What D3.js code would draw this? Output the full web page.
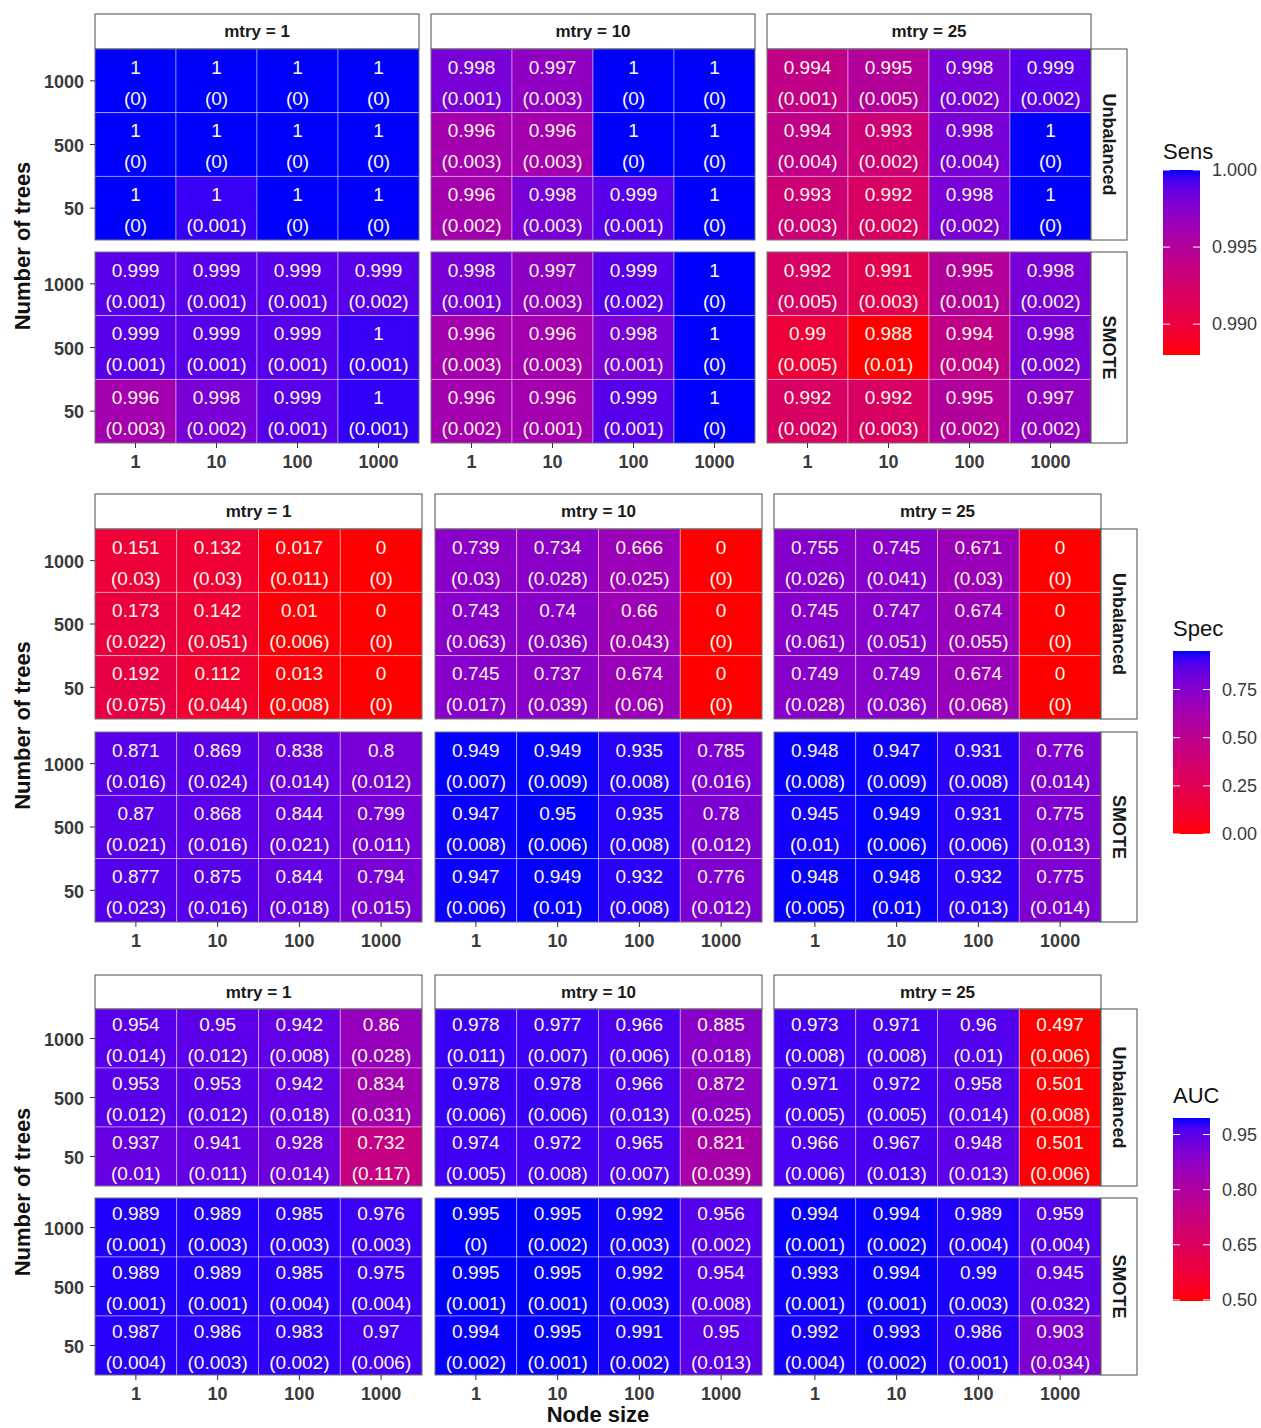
<!DOCTYPE html>
<html><head><meta charset="utf-8">
<script src="https://cdn.jsdelivr.net/npm/d3@7"></script>
<style>
body{margin:0;background:#fff}
svg{display:block}
text{font-family:"Liberation Sans",Arial,Helvetica,sans-serif}
</style>
</head><body>
<svg id="chart" width="1261" height="1428"></svg>
<script>
// ---------------- DATA ----------------
const nodeSizes = ["1","10","100","1000"];
const nTrees = ["1000","500","50"];
const mtryLevels = ["1","10","25"];
const samplings = ["Unbalanced","SMOTE"];
const metricNames = ["Sens","Spec","AUC"];

// indexing: [sampling][mtry][ntree row: 1000,500,50][node size: 1,10,100,1000]
const sensMean = [
 [
  [[1,1,1,1],[1,1,1,1],[1,0.9996,1,1]],
  [[0.998,0.997,1,1],[0.996,0.996,1,1],[0.996,0.998,0.999,1]],
  [[0.994,0.995,0.998,0.999],[0.994,0.993,0.998,1],[0.993,0.992,0.998,1]]
 ],
 [
  [[0.999,0.999,0.999,0.999],[0.999,0.999,0.999,0.9996],[0.996,0.998,0.999,0.9997]],
  [[0.998,0.997,0.999,1],[0.996,0.996,0.998,1],[0.996,0.996,0.999,1]],
  [[0.992,0.991,0.995,0.998],[0.99,0.988,0.994,0.998],[0.992,0.992,0.995,0.997]]
 ]
];
const sensSd = [
 [
  [[0,0,0,0],[0,0,0,0],[0,0.001,0,0]],
  [[0.001,0.003,0,0],[0.003,0.003,0,0],[0.002,0.003,0.001,0]],
  [[0.001,0.005,0.002,0.002],[0.004,0.002,0.004,0],[0.003,0.002,0.002,0]]
 ],
 [
  [[0.001,0.001,0.001,0.002],[0.001,0.001,0.001,0.001],[0.003,0.002,0.001,0.001]],
  [[0.001,0.003,0.002,0],[0.003,0.003,0.001,0],[0.002,0.001,0.001,0]],
  [[0.005,0.003,0.001,0.002],[0.005,0.01,0.004,0.002],[0.002,0.003,0.002,0.002]]
 ]
];
const specMean = [
 [
  [[0.151,0.132,0.017,0],[0.173,0.142,0.01,0],[0.192,0.112,0.013,0]],
  [[0.739,0.734,0.666,0],[0.743,0.74,0.66,0],[0.745,0.737,0.674,0]],
  [[0.755,0.745,0.671,0],[0.745,0.747,0.674,0],[0.749,0.749,0.674,0]]
 ],
 [
  [[0.871,0.869,0.838,0.8],[0.87,0.868,0.844,0.799],[0.877,0.875,0.844,0.794]],
  [[0.949,0.949,0.935,0.785],[0.947,0.95,0.935,0.78],[0.947,0.949,0.932,0.776]],
  [[0.948,0.947,0.931,0.776],[0.945,0.949,0.931,0.775],[0.948,0.948,0.932,0.775]]
 ]
];
const specSd = [
 [
  [[0.03,0.03,0.011,0],[0.022,0.051,0.006,0],[0.075,0.044,0.008,0]],
  [[0.03,0.028,0.025,0],[0.063,0.036,0.043,0],[0.017,0.039,0.06,0]],
  [[0.026,0.041,0.03,0],[0.061,0.051,0.055,0],[0.028,0.036,0.068,0]]
 ],
 [
  [[0.016,0.024,0.014,0.012],[0.021,0.016,0.021,0.011],[0.023,0.016,0.018,0.015]],
  [[0.007,0.009,0.008,0.016],[0.008,0.006,0.008,0.012],[0.006,0.01,0.008,0.012]],
  [[0.008,0.009,0.008,0.014],[0.01,0.006,0.006,0.013],[0.005,0.01,0.013,0.014]]
 ]
];
const aucMean = [
 [
  [[0.954,0.95,0.942,0.86],[0.953,0.953,0.942,0.834],[0.937,0.941,0.928,0.732]],
  [[0.978,0.977,0.966,0.885],[0.978,0.978,0.966,0.872],[0.974,0.972,0.965,0.821]],
  [[0.973,0.971,0.96,0.497],[0.971,0.972,0.958,0.501],[0.966,0.967,0.948,0.501]]
 ],
 [
  [[0.989,0.989,0.985,0.976],[0.989,0.989,0.985,0.975],[0.987,0.986,0.983,0.97]],
  [[0.995,0.995,0.992,0.956],[0.995,0.995,0.992,0.954],[0.994,0.995,0.991,0.95]],
  [[0.994,0.994,0.989,0.959],[0.993,0.994,0.99,0.945],[0.992,0.993,0.986,0.903]]
 ]
];
const aucSd = [
 [
  [[0.014,0.012,0.008,0.028],[0.012,0.012,0.018,0.031],[0.01,0.011,0.014,0.117]],
  [[0.011,0.007,0.006,0.018],[0.006,0.006,0.013,0.025],[0.005,0.008,0.007,0.039]],
  [[0.008,0.008,0.01,0.006],[0.005,0.005,0.014,0.008],[0.006,0.013,0.013,0.006]]
 ],
 [
  [[0.001,0.003,0.003,0.003],[0.001,0.001,0.004,0.004],[0.004,0.003,0.002,0.006]],
  [[0,0.002,0.003,0.002],[0.001,0.001,0.003,0.008],[0.002,0.001,0.002,0.013]],
  [[0.001,0.002,0.004,0.004],[0.001,0.001,0.003,0.032],[0.004,0.002,0.001,0.034]]
 ]
];
const sensBreaks = [0.990, 0.995, 1.000];
const specBreaks = [0, 0.25, 0.5, 0.75];
const aucBreaks = [0.5, 0.65, 0.8, 0.95];
const breakDigits = [3, 2, 2];

// ---------------- LAYOUT ----------------
const layouts = [
 {stripTop:14, stripH:35, rowTops:[49,252], rowH:191, colX:[95,431,767], colW:324, rsW:36,
  barX:1163, barTop:170, barH:185, barW:37, titleY:159, legX:1212},
 {stripTop:494, stripH:35, rowTops:[529,732], rowH:190, colX:[95,435,774], colW:327, rsW:36,
  barX:1173, barTop:651, barH:183, barW:37, titleY:636, legX:1222},
 {stripTop:975, stripH:34, rowTops:[1009,1198], rowH:177, colX:[95,435,774], colW:327, rsW:36,
  barX:1173, barTop:1118, barH:183, barW:37, titleY:1103, legX:1222}
];
const means = [sensMean, specMean, aucMean];
const sds = [sensSd, specSd, aucSd];
const breaks = [sensBreaks, specBreaks, aucBreaks];

const fmt = v => String(+(+v).toFixed(3));
const svg = d3.select("#chart");
const defs = svg.append("defs");
const cellText = "#fbf6e6";
const borderCol = "#4d4d4d";

metricNames.forEach((metric, m) => {
  const L = layouts[m];
  const allVals = means[m].flat(3);
  const ext = d3.extent(allVals);
  const color = d3.scaleLinear().domain(ext).range(["red","blue"]).interpolate(d3.interpolateLab);
  const g = svg.append("g");

  mtryLevels.forEach((mt, c) => {
    const x = d3.scaleBand().domain(nodeSizes).range([L.colX[c], L.colX[c] + L.colW]);
    g.append("rect").attr("x", L.colX[c]).attr("y", L.stripTop).attr("width", L.colW).attr("height", L.stripH)
      .attr("fill", "#fff").attr("stroke", borderCol).attr("stroke-width", 1);
    g.append("text").attr("x", L.colX[c] + L.colW/2).attr("y", L.stripTop + L.stripH/2).attr("dy", "0.35em")
      .attr("text-anchor", "middle").attr("font-size", 17).attr("font-weight", "bold").attr("fill", "#1a1a1a")
      .text("mtry = " + mt);

    samplings.forEach((smp, s) => {
      const top = L.rowTops[s];
      const y = d3.scaleBand().domain(nTrees).range([top, top + L.rowH]);
      const cells = [];
      nTrees.forEach((nt, r) => nodeSizes.forEach((ns, k) => {
        cells.push({nt, ns, v: means[m][s][c][r][k], sd: sds[m][s][c][r][k]});
      }));
      const pg = g.append("g");
      pg.selectAll("rect.tile").data(cells).join("rect").attr("class","tile")
        .attr("x", d => x(d.ns)).attr("y", d => y(d.nt))
        .attr("width", x.bandwidth()).attr("height", y.bandwidth())
        .attr("fill", d => color(d.v))
        .attr("stroke", "rgba(255,255,255,0.5)").attr("stroke-width", 0.8);
      pg.selectAll("text.val").data(cells).join("text").attr("class","val")
        .attr("x", d => x(d.ns) + x.bandwidth()/2).attr("y", d => y(d.nt) + y.bandwidth()/2 - 14)
        .attr("dy", "0.36em").attr("text-anchor", "middle").attr("font-size", 19).attr("fill", cellText)
        .text(d => fmt(d.v));
      pg.selectAll("text.sd").data(cells).join("text").attr("class","sd")
        .attr("x", d => x(d.ns) + x.bandwidth()/2).attr("y", d => y(d.nt) + y.bandwidth()/2 + 17)
        .attr("dy", "0.36em").attr("text-anchor", "middle").attr("font-size", 19).attr("fill", cellText)
        .text(d => "(" + fmt(d.sd) + ")");
      g.append("rect").attr("x", L.colX[c]).attr("y", top).attr("width", L.colW).attr("height", L.rowH)
        .attr("fill", "none").attr("stroke", borderCol).attr("stroke-width", 0.8);

      if (c === 0) {
        const ya = g.append("g").attr("transform", `translate(${L.colX[0]},0)`)
          .call(d3.axisLeft(y).tickSize(5).tickPadding(6));
        ya.select(".domain").remove();
        ya.selectAll("line").attr("stroke", "#333");
        ya.selectAll("text").attr("font-size", 18).attr("font-weight", "bold").attr("fill", "#3a3a3a")
          .attr("dy", "0.4em")
          .attr("font-family", '"Liberation Sans",Arial,sans-serif');
      }
      if (c === mtryLevels.length - 1) {
        const rx = L.colX[c] + L.colW;
        g.append("rect").attr("x", rx).attr("y", top).attr("width", L.rsW).attr("height", L.rowH)
          .attr("fill", "#fff").attr("stroke", borderCol).attr("stroke-width", 1);
        g.append("text").attr("transform", `translate(${rx + L.rsW/2},${top + L.rowH/2}) rotate(90)`)
          .attr("dy", "0.35em").attr("text-anchor", "middle").attr("font-size", 18).attr("font-weight", "bold")
          .attr("fill", "#1a1a1a").text(smp);
      }
      if (s === samplings.length - 1) {
        const xa = g.append("g").attr("transform", `translate(0,${top + L.rowH})`)
          .call(d3.axisBottom(x).tickSize(5).tickPadding(7));
        xa.select(".domain").remove();
        xa.selectAll("line").attr("stroke", "#333");
        xa.selectAll("text").attr("font-size", 18).attr("font-weight", "bold").attr("fill", "#3a3a3a")
          .attr("font-family", '"Liberation Sans",Arial,sans-serif');
      }
    });
  });

  const midY = (L.rowTops[0] + L.rowTops[1] + L.rowH) / 2;
  g.append("text").attr("transform", `translate(22,${midY}) rotate(-90)`).attr("dy", "0.35em")
    .attr("text-anchor", "middle").attr("font-size", 22).attr("font-weight", "bold").attr("fill", "#111")
    .text("Number of trees");

  const gid = "grad" + m;
  const grad = defs.append("linearGradient").attr("id", gid).attr("x1", 0).attr("y1", 1).attr("x2", 0).attr("y2", 0);
  d3.range(0, 1.0001, 0.05).forEach(t => {
    grad.append("stop").attr("offset", t).attr("stop-color", color(ext[0] + t * (ext[1] - ext[0])));
  });
  g.append("text").attr("x", L.barX).attr("y", L.titleY).attr("font-size", 22).attr("fill", "#111").text(metric);
  g.append("rect").attr("x", L.barX).attr("y", L.barTop).attr("width", L.barW).attr("height", L.barH)
    .attr("fill", `url(#${gid})`);
  const ls = d3.scaleLinear().domain(ext).range([L.barTop + L.barH, L.barTop]);
  const la = g.append("g").attr("transform", `translate(${L.legX},0)`)
    .call(d3.axisRight(ls).tickValues(breaks[m]).tickSize(0).tickPadding(0)
      .tickFormat(d => d.toFixed(breakDigits[m])));
  la.select(".domain").remove();
  la.selectAll("text").attr("font-size", 18).attr("fill", "#3a3a3a")
    .attr("font-family", '"Liberation Sans",Arial,sans-serif');
  breaks[m].forEach(b => {
    const yy = ls(b);
    g.append("line").attr("x1", L.barX).attr("x2", L.barX + 7).attr("y1", yy).attr("y2", yy)
      .attr("stroke", "#fff").attr("stroke-width", 1);
    g.append("line").attr("x1", L.barX + L.barW - 7).attr("x2", L.barX + L.barW).attr("y1", yy).attr("y2", yy)
      .attr("stroke", "#fff").attr("stroke-width", 1);
  });
});

svg.append("text").attr("x", 598).attr("y", 1422).attr("text-anchor", "middle")
  .attr("font-size", 22).attr("font-weight", "bold").attr("fill", "#111").text("Node size");
</script>
</body></html>
